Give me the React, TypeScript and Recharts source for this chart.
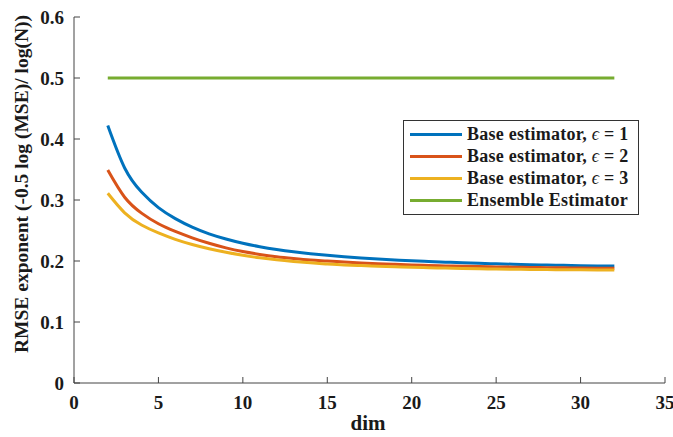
import React from "react";
import { Label, Line, LineChart, XAxis, YAxis } from "recharts";

// values, one per integer dim
const dims = [
  2, 3, 4, 5, 6, 7, 8, 9, 10, 11, 12, 13, 14, 15, 16, 17, 18, 19, 20, 21, 22,
  23, 24, 25, 26, 27, 28, 29, 30, 31, 32,
];
const base1 = [
  0.422, 0.3525, 0.313, 0.2875, 0.2695, 0.2555, 0.2445, 0.236, 0.229, 0.2235,
  0.219, 0.2152, 0.212, 0.2093, 0.207, 0.205, 0.2033, 0.2018, 0.2004, 0.1992,
  0.1981, 0.1971, 0.1962, 0.1954, 0.1947, 0.194, 0.1934, 0.1929, 0.1924,
  0.192, 0.1916,
];
const base2 = [
  0.349, 0.3045, 0.2785, 0.261, 0.2485, 0.238, 0.229, 0.2215, 0.2155, 0.2108,
  0.207, 0.204, 0.2015, 0.2, 0.1983, 0.1969, 0.1956, 0.1945, 0.1935, 0.1927,
  0.192, 0.1914, 0.1908, 0.1903, 0.1899, 0.1895, 0.1891, 0.1888, 0.1885,
  0.1883, 0.1881,
];
const base3 = [
  0.311, 0.279, 0.259, 0.246, 0.2355, 0.227, 0.22, 0.2142, 0.2093, 0.2053,
  0.202, 0.1993, 0.197, 0.1951, 0.1935, 0.1925, 0.1914, 0.1905, 0.1897,
  0.189, 0.1884, 0.1878, 0.1873, 0.1869, 0.1865, 0.1862, 0.1859, 0.1857,
  0.1855, 0.1853, 0.1851,
];
const ensembleDims = [2, 32];
const ensemble = [0.5, 0.5];

const xTicks = [0, 5, 10, 15, 20, 25, 30, 35];
const yTicks = [0, 0.1, 0.2, 0.3, 0.4, 0.5, 0.6];
const seriesNames = [
  "Base estimator, ϵ = 1",
  "Base estimator, ϵ = 2",
  "Base estimator, ϵ = 3",
  "Ensemble Estimator",
];
const colors = ["#0072BD", "#D95319", "#EDB120", "#77AC30"];

const data = dims.map((d, i) => ({
  dim: d,
  b1: base1[i],
  b2: base2[i],
  b3: base3[i],
}));
const ensembleData = ensembleDims.map((d, i) => ({ dim: d, ens: ensemble[i] }));

const FONT = "'Liberation Serif', 'Times New Roman', serif";
const TEXT = "#1a1a1a";
const AXIS = "#444444";
const TICK_MARGIN = 10;

const YTick = (props: any) => {
  const { x, y, payload } = props;
  const ax = x + TICK_MARGIN;
  return (
    <g>
      <line x1={ax} x2={ax + 6} y1={y} y2={y} stroke={AXIS} />
      <text
        x={x}
        y={y}
        dy={6.5}
        textAnchor="end"
        fontFamily={FONT}
        fontWeight="bold"
        fontSize={19}
        fill={TEXT}
      >
        {payload.value}
      </text>
    </g>
  );
};

const XTick = (props: any) => {
  const { x, y, payload } = props;
  const ay = y - TICK_MARGIN;
  return (
    <g>
      <line x1={x} x2={x} y1={ay} y2={ay - 6} stroke={AXIS} />
      <text
        x={x}
        y={y}
        dy={16}
        textAnchor="middle"
        fontFamily={FONT}
        fontWeight="bold"
        fontSize={19}
        fill={TEXT}
      >
        {payload.value}
      </text>
    </g>
  );
};

const withEpsilon = (name: string) => {
  const parts = name.split("ϵ");
  if (parts.length < 2) return name;
  return (
    <>
      {parts[0]}
      <span style={{ fontWeight: "normal", fontStyle: "italic" }}>ϵ</span>
      {parts[1]}
    </>
  );
};

const ChartLegend = () => (
  <div
    style={{
      position: "absolute",
      left: 403,
      top: 120,
      boxSizing: "border-box",
      width: 236,
      height: 95,
      border: "1px solid #333",
      background: "#fff",
      padding: "2px 0 0 6px",
      fontFamily: FONT,
      fontWeight: "bold",
      fontSize: "18px",
      letterSpacing: "0.25px",
      lineHeight: "22px",
      color: TEXT,
    }}
  >
    {seriesNames.map((name, i) => (
      <div
        key={name}
        style={{ display: "flex", alignItems: "center", height: 22 }}
      >
        <div
          style={{
            width: 52,
            height: 3,
            background: colors[i],
            marginRight: 5,
            flexShrink: 0,
          }}
        />
        <span style={{ whiteSpace: "nowrap" }}>{withEpsilon(name)}</span>
      </div>
    ))}
  </div>
);

export default function App() {
  return (
    <div style={{ position: "absolute", left: 0, top: 0, width: 673, height: 437 }}>
      <LineChart
        width={673}
        height={437}
        data={data}
        margin={{ top: 17, right: 8, left: 0, bottom: 0 }}
      >
        <XAxis
          dataKey="dim"
          type="number"
          domain={[0, 35]}
          ticks={xTicks}
          interval={0}
          height={54}
          tickSize={0}
          tickMargin={TICK_MARGIN}
          tick={<XTick />}
          axisLine={{ stroke: AXIS }}
          allowDataOverflow
        >
          <Label
            content={() => (
              <text
                x={368}
                y={430}
                textAnchor="middle"
                fontFamily={FONT}
                fontWeight="bold"
                fontSize={21}
                fill={TEXT}
              >
                dim
              </text>
            )}
          />
        </XAxis>
        <YAxis
          type="number"
          domain={[0, 0.6]}
          ticks={yTicks}
          interval={0}
          width={74}
          tickSize={0}
          tickMargin={TICK_MARGIN}
          tick={<YTick />}
          axisLine={{ stroke: AXIS }}
        >
          <Label
            content={() => (
              <text
                x={28}
                y={184}
                transform="rotate(-90 28 184)"
                textAnchor="middle"
                fontFamily={FONT}
                fontWeight="bold"
                fontSize={19.5}
                fill={TEXT}
              >
                RMSE exponent (-0.5 log (MSE)/ log(N))
              </text>
            )}
          />
        </YAxis>
        <Line
          dataKey="b1"
          stroke={colors[0]}
          strokeWidth={3}
          dot={false}
          type="natural"
          isAnimationActive={false}
        />
        <Line
          dataKey="b2"
          stroke={colors[1]}
          strokeWidth={3}
          dot={false}
          type="natural"
          isAnimationActive={false}
        />
        <Line
          dataKey="b3"
          stroke={colors[2]}
          strokeWidth={3}
          dot={false}
          type="natural"
          isAnimationActive={false}
        />
        <Line
          data={ensembleData}
          dataKey="ens"
          stroke={colors[3]}
          strokeWidth={3}
          dot={false}
          type="linear"
          isAnimationActive={false}
        />
      </LineChart>
      <ChartLegend />
    </div>
  );
}
